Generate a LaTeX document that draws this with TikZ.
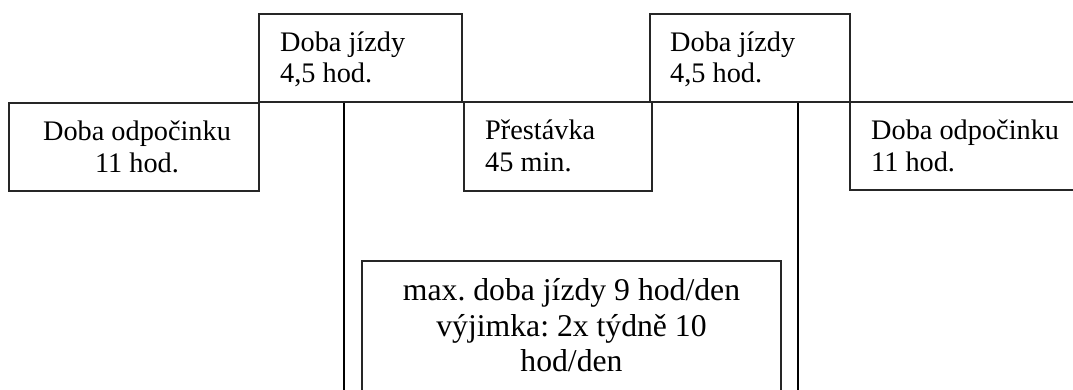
\documentclass[tikz,border=0pt]{standalone}
\usepackage{fontspec}
\setmainfont{Liberation Serif}
\frenchspacing
\begin{document}
\begin{tikzpicture}[x=1pt,y=-1pt,
  stage/.style={draw=black!85,line width=1.5pt,rectangle,inner sep=0pt},
  lbl/.style={inner sep=0pt,font=\fontsize{28.3}{32}\selectfont},
  note/.style={inner sep=0pt,align=center,font=\fontsize{31.7}{35.5}\selectfont},
  limit/.style={line width=2.3pt,black}]
\useasboundingbox (0,0) rectangle (1073,390);
\clip (0,0) rectangle (1073,390);

% time blocks of the working day
\node[stage,minimum width=250pt,minimum height=88pt] (rest1) at (134,147) {};
\node[stage,minimum width=203pt,minimum height=88pt] (drive1) at (360.5,58) {};
\node[stage,minimum width=188pt,minimum height=89pt] (pause) at (558,146.5) {};
\node[stage,minimum width=200pt,minimum height=88pt] (drive2) at (750,58) {};
\node[stage,minimum width=240pt,minimum height=88pt] (rest2) at (970,146) {};
\node[stage,minimum width=419pt,minimum height=140pt] (limitbox) at (571.5,331) {};

% labels
\node[lbl,anchor=base] (t1a) at (137,141) {Doba odpočinku};
\node[lbl,anchor=base] (t1b) at (137,173) {11 hod.};
\node[lbl,anchor=base west] (t2a) at (280,52) {Doba jízdy};
\node[lbl,anchor=base west] (t2b) at (280,83) {4,5 hod.};
\node[lbl,anchor=base west] (t3a) at (485,140) {Přestávka};
\node[lbl,anchor=base west] (t3b) at (485,172) {45 min.};
\node[lbl,anchor=base west] (t4a) at (670,52) {Doba jízdy};
\node[lbl,anchor=base west] (t4b) at (670,83) {4,5 hod.};
\node[lbl,anchor=base west] (t5a) at (871,140) {Doba odpočinku};
\node[lbl,anchor=base west] (t5b) at (871,172) {11 hod.};
\node[note,anchor=base] (t6a) at (571.5,300) {max. doba jízdy 9 hod/den};
\node[note,anchor=base] (t6b) at (571.5,336) {výjimka: 2x týdně 10};
\node[note,anchor=base] (t6c) at (571.5,371) {hod/den};

% bracket lines spanning the driving period
\coordinate (lend) at (344,395);
\coordinate (rend) at (798,395);
\draw[limit] (drive1.south -| lend) -- (lend);
\draw[limit] (drive2.south -| rend) -- (rend);
\end{tikzpicture}
\end{document}
